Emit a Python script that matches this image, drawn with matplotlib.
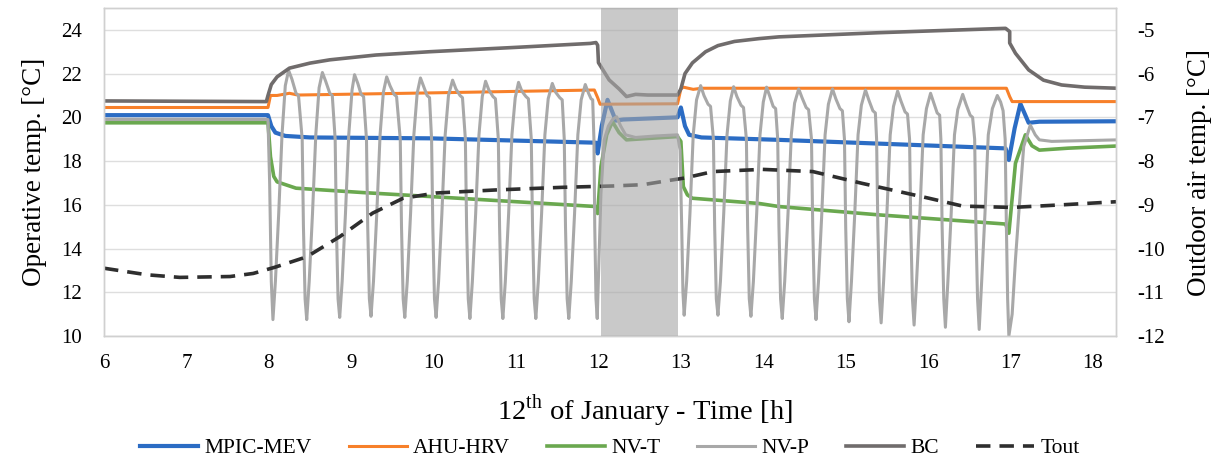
"""
Operative temperature of the ventilation strategies on 12 January, with outdoor air temperature
"""
import matplotlib
matplotlib.use("Agg")
import matplotlib.pyplot as plt

plt.rcParams['font.family'] = ['Liberation Serif', 'DejaVu Serif']
plt.rcParams['mathtext.fontset'] = 'custom'
plt.rcParams['mathtext.rm'] = 'Liberation Serif'
plt.rcParams['axes.unicode_minus'] = False

# ---- data (time in hours, temperatures in degC) ----
mev_t = [6.0, 7.99, 8.03, 8.08, 8.2, 8.5, 9.95, 11.97, 11.99, 12.04, 12.11, 12.21, 12.3,
         12.96, 13.0, 13.05, 13.1, 13.25, 14.19, 16.94, 16.98, 17.05, 17.12, 17.22, 17.35, 18.3]
mev_T = [20.1, 20.1, 19.6, 19.3, 19.15, 19.08, 19.04, 18.84, 18.35, 19.6, 20.8, 19.85, 19.9,
         20.0, 20.45, 19.6, 19.2, 19.08, 18.97, 18.58, 18.05, 19.5, 20.62, 19.75, 19.8, 19.82]

ahu_t = [6.0, 7.99, 8.02, 8.1, 8.25, 8.35, 10.0, 11.95, 11.99, 12.02, 12.96, 13.0, 13.03,
         13.15, 13.25, 16.95, 16.99, 17.02, 18.3]
ahu_T = [20.45, 20.45, 21.0, 21.0, 21.1, 21.02, 21.12, 21.25, 20.9, 20.6, 20.62, 21.3, 21.38,
         21.28, 21.33, 21.33, 20.95, 20.72, 20.72]

nvt_t = [6.0, 7.99, 8.02, 8.06, 8.1, 8.33, 9.14, 9.95, 11.97, 11.99, 12.03, 12.1, 12.17, 12.25,
         12.34, 12.96, 13.0, 13.03, 13.08, 13.14, 13.95, 14.19, 15.4, 16.94, 16.98, 17.06,
         17.18, 17.26, 17.35, 17.7, 18.3]
nvt_T = [19.75, 19.75, 18.2, 17.3, 17.05, 16.76, 16.56, 16.38, 15.92, 15.6, 17.75, 19.2, 19.8,
         19.3, 18.97, 19.12, 18.9, 16.83, 16.45, 16.3, 16.06, 15.92, 15.54, 15.12, 14.7, 17.9,
         19.2, 18.7, 18.5, 18.59, 18.69]

bc_t = [6.0, 7.97, 7.99, 8.03, 8.1, 8.25, 8.5, 8.74, 9.3, 9.95, 11.0, 11.9, 11.97, 11.99, 12.0,
        12.13, 12.25, 12.34, 12.45, 12.6, 12.96, 13.0, 13.05, 13.14, 13.3, 13.45, 13.65, 13.95,
        14.19, 15.4, 16.94, 16.99, 16.99, 17.06, 17.22, 17.4, 17.62, 17.9, 18.3]
bc_T = [20.75, 20.72, 21.0, 21.5, 21.85, 22.25, 22.48, 22.63, 22.85, 23.0, 23.2, 23.38, 23.42,
        23.3, 22.5, 21.71, 21.3, 20.95, 21.05, 21.02, 21.02, 21.3, 22.0, 22.49, 23.0, 23.28,
        23.47, 23.6, 23.68, 23.87, 24.07, 23.92, 23.4, 22.93, 22.17, 21.7, 21.48, 21.38, 21.33]

# NV-P: window opening cycles, listed cycle by cycle
nvp_pts = [
    (6.0, 19.9), (7.99, 19.9), (8.01, 17.0), (8.03, 12.5),
    (8.05, 10.75), (8.08, 12.5), (8.12, 15.6), (8.16, 19.2), (8.20, 21.45), (8.24, 22.15), (8.28, 21.75), (8.33, 21.1), (8.36, 21.0), (8.405, 19.0), (8.42, 15.0), (8.44, 11.7),
    (8.46, 10.75), (8.49, 12.5), (8.53, 15.6), (8.57, 19.2), (8.61, 21.35), (8.65, 22.05), (8.69, 21.65), (8.74, 21.1), (8.77, 21.0), (8.805, 19.0), (8.82, 15.0), (8.84, 11.7),
    (8.86, 10.85), (8.89, 12.5), (8.93, 15.6), (8.97, 19.2), (9.01, 21.25), (9.04, 21.95), (9.08, 21.55), (9.12, 21.05), (9.15, 20.95), (9.185, 19.0), (9.20, 15.0), (9.22, 11.7),
    (9.24, 10.9), (9.27, 12.5), (9.31, 15.6), (9.35, 19.2), (9.39, 21.15), (9.43, 21.85), (9.47, 21.45), (9.52, 21.05), (9.55, 20.95), (9.595, 19.0), (9.61, 15.0), (9.63, 11.7),
    (9.65, 10.85), (9.68, 12.5), (9.72, 15.6), (9.76, 19.2), (9.80, 21.1), (9.84, 21.8), (9.88, 21.4), (9.92, 21.0), (9.95, 20.9), (9.975, 19.0), (9.99, 15.0), (10.01, 11.7),
    (10.03, 10.85), (10.06, 12.5), (10.10, 15.6), (10.14, 19.2), (10.18, 21.0), (10.23, 21.7), (10.27, 21.3), (10.32, 21.0), (10.35, 20.9), (10.385, 19.0), (10.40, 15.0), (10.42, 11.7),
    (10.44, 10.8), (10.47, 12.5), (10.51, 15.6), (10.55, 19.2), (10.59, 20.95), (10.63, 21.65), (10.67, 21.25), (10.72, 20.95), (10.75, 20.85), (10.785, 19.0), (10.80, 15.0), (10.82, 11.7),
    (10.84, 10.8), (10.87, 12.5), (10.91, 15.6), (10.95, 19.2), (10.99, 20.9), (11.03, 21.6), (11.07, 21.2), (11.12, 20.95), (11.15, 20.85), (11.185, 19.0), (11.20, 15.0), (11.22, 11.7),
    (11.24, 10.8), (11.27, 12.5), (11.31, 15.6), (11.35, 19.2), (11.39, 20.85), (11.44, 21.55), (11.48, 21.15), (11.53, 20.9), (11.56, 20.8), (11.585, 19.0), (11.60, 15.0), (11.62, 11.7),
    (11.64, 10.8), (11.67, 12.5), (11.71, 15.6), (11.75, 19.2), (11.79, 20.8), (11.84, 21.5), (11.88, 21.1), (11.91, 20.85), (11.93, 20.8), (11.945, 19.0), (11.955, 15.0), (11.97, 11.7),
    (11.985, 10.8), (12.01, 14.0), (12.03, 16.5), (12.07, 18.97), (12.12, 19.6), (12.17, 19.9), (12.22, 20.03), (12.27, 19.6), (12.33, 19.2), (12.45, 19.08), (12.7, 19.15), (12.96, 19.2),
    (12.99, 18.5), (13.01, 15.0), (13.025, 12.0),
    (13.04, 10.95), (13.07, 12.5), (13.11, 15.6), (13.15, 19.2), (13.19, 20.8), (13.24, 21.45), (13.28, 21.0), (13.33, 20.6), (13.36, 20.5), (13.395, 19.0), (13.41, 15.0), (13.43, 11.7),
    (13.45, 10.95), (13.48, 12.5), (13.52, 15.6), (13.56, 19.2), (13.60, 20.75), (13.64, 21.4), (13.68, 20.95), (13.73, 20.55), (13.76, 20.45), (13.795, 19.0), (13.81, 15.0), (13.83, 11.7),
    (13.85, 10.9), (13.88, 12.5), (13.92, 15.6), (13.96, 19.2), (14.00, 20.7), (14.04, 21.38), (14.08, 20.95), (14.12, 20.5), (14.15, 20.4), (14.175, 19.0), (14.19, 15.0), (14.21, 11.7),
    (14.23, 10.8), (14.26, 12.5), (14.30, 15.6), (14.34, 19.2), (14.38, 20.65), (14.43, 21.3), (14.47, 20.9), (14.52, 20.45), (14.55, 20.35), (14.585, 19.0), (14.60, 15.0), (14.62, 11.7),
    (14.64, 10.75), (14.67, 12.5), (14.71, 15.6), (14.75, 19.2), (14.79, 20.6), (14.84, 21.3), (14.88, 20.85), (14.93, 20.4), (14.96, 20.3), (14.985, 19.0), (15.00, 15.0), (15.02, 11.7),
    (15.04, 10.65), (15.07, 12.5), (15.11, 15.6), (15.15, 19.2), (15.19, 20.55), (15.24, 21.25), (15.28, 20.8), (15.33, 20.3), (15.36, 20.2), (15.375, 19.0), (15.39, 15.0), (15.41, 11.7),
    (15.43, 10.6), (15.46, 12.5), (15.50, 15.6), (15.54, 19.2), (15.58, 20.5), (15.63, 21.2), (15.67, 20.75), (15.72, 20.25), (15.75, 20.15), (15.775, 19.0), (15.79, 15.0), (15.81, 11.7),
    (15.83, 10.5), (15.86, 12.5), (15.90, 15.6), (15.94, 19.2), (15.98, 20.4), (16.03, 21.1), (16.07, 20.65), (16.11, 20.2), (16.14, 20.1), (16.155, 19.0), (16.17, 15.0), (16.19, 11.7),
    (16.21, 10.4), (16.24, 12.5), (16.28, 15.6), (16.32, 19.2), (16.36, 20.35), (16.42, 21.05), (16.46, 20.6), (16.51, 20.1), (16.54, 20.0), (16.565, 19.0), (16.58, 15.0), (16.60, 11.7),
    (16.62, 10.3), (16.65, 12.5), (16.69, 15.6), (16.73, 19.2), (16.78, 20.4), (16.84, 21.0), (16.88, 20.7), (16.91, 20.3), (16.935, 19.0), (16.95, 15.0), (16.965, 11.7),
    (16.98, 10.0), (17.02, 11.0), (17.06, 13.5), (17.1, 15.6), (17.16, 18.66), (17.24, 19.65), (17.3, 19.2), (17.35, 18.97), (17.5, 18.9), (18.3, 18.97),
]
nvp_t = [p[0] for p in nvp_pts]
nvp_T = [p[1] for p in nvp_pts]

tout_t = [6.0, 6.52, 6.92, 7.53, 7.81, 8.07, 8.46, 8.86, 9.26, 9.63, 10.03, 10.76, 11.57, 12.17,
          12.54, 12.9, 13.04, 13.39, 13.99, 14.6, 15.2, 16.01, 16.42, 17.02, 17.63, 18.28]
tout_T = [-10.45, -10.6, -10.66, -10.64, -10.57, -10.43, -10.19, -9.73, -9.19, -8.85, -8.73,
          -8.66, -8.6, -8.57, -8.54, -8.43, -8.39, -8.24, -8.19, -8.24, -8.51, -8.85, -9.03,
          -9.06, -9.0, -8.93]

occupancy_gap = (12.03, 12.97)
x_ticks = list(range(6, 19))
left_ticks = list(range(10, 25, 2))
right_ticks = list(range(-12, -4))

fig = plt.figure(figsize=(12.2, 4.62), dpi=100)
ax1 = fig.add_axes([104 / 1220, 1 - 336 / 462, (1116 - 104) / 1220, (336 - 8) / 462])
ax2 = ax1.twinx()

frame = '#d0d0d0'
l_mev, = ax1.plot(mev_t, mev_T, color='#2b6cc4', lw=3.0, label='MPIC-MEV')
l_ahu, = ax1.plot(ahu_t, ahu_T, color='#f7802a', lw=2.2, label='AHU-HRV')
l_nvt, = ax1.plot(nvt_t, nvt_T, color='#6aa84f', lw=2.6, label='NV-T')
l_nvp, = ax1.plot(nvp_t, nvp_T, color='#a8a8a8', lw=2.2, label='NV-P')
l_bc, = ax1.plot(bc_t, bc_T, color='#706c6c', lw=2.6, label='BC')
l_out, = ax2.plot(tout_t, tout_T, color='#2e2e2e', lw=2.6, ls=(0, (4, 2.5)), label='Tout', zorder=2)

# shaded period drawn on top of everything, as in the original
ax2.axvspan(*occupancy_gap, color='#a6a6a6', alpha=0.6, lw=0, zorder=5)

ax1.set_xlim(6, 18.28)
ax1.set_ylim(10, 25)
ax2.set_ylim(-12, -4.5)
ax1.set_xticks(x_ticks)
ax1.set_yticks(left_ticks)
ax2.set_yticks(right_ticks)
ax1.grid(axis='y', color='#dedede', lw=1.0)
ax1.set_axisbelow(True)

for ax in (ax1, ax2):
    for s in ax.spines.values():
        s.set_color(frame)
        s.set_linewidth(1.0)
    ax.tick_params(length=0, labelsize=15, colors='black')
ax1.tick_params(axis='y', pad=16)
ax1.tick_params(axis='x', pad=13)
ax2.tick_params(axis='y', pad=15)

ax1.set_ylabel('Operative temp. [°C]', fontsize=19.5, labelpad=10)
ax2.set_ylabel('Outdoor air temp. [°C]', fontsize=19.5, labelpad=16)
ax1.set_xlabel(r'12$^{\mathrm{th}}$ of January - Time [h]', fontsize=20.5)
ax1.xaxis.set_label_coords(0.535, -0.17)

handles = [l_mev, l_ahu, l_nvt, l_nvp, l_bc, l_out]
fig.legend(handles=handles, labels=[h.get_label() for h in handles], loc='center',
           bbox_to_anchor=(0.5, 0.03), ncol=6, frameon=False, fontsize=15.5,
           handlelength=2.7, handletextpad=0.3, columnspacing=1.7)

fig.savefig('out.png', dpi=100)
